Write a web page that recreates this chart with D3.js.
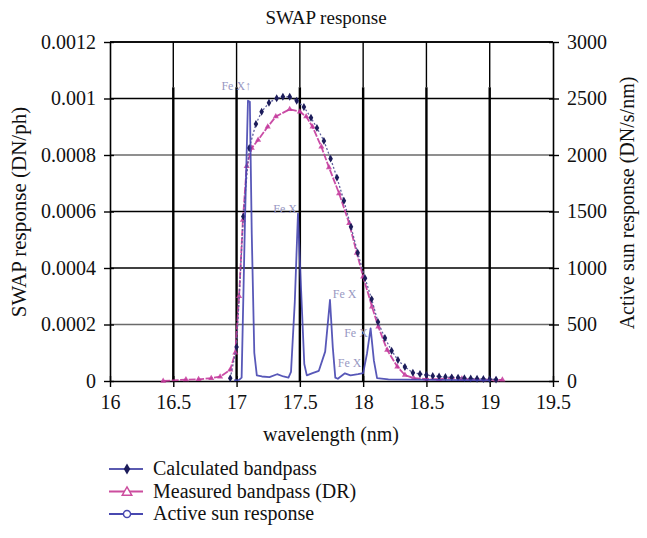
<!DOCTYPE html>
<html><head><meta charset="utf-8">
<script src="https://cdn.jsdelivr.net/npm/d3@7"></script>
<style>
body{margin:0;background:#fff;}
text{font-family:"Liberation Serif","Times New Roman",serif;fill:#111;}
</style></head>
<body><svg id="c" width="647" height="538"></svg>
<script>
// ---- data ----
const xTicks = [16, 16.5, 17, 17.5, 18, 18.5, 19, 19.5];
const leftTicks = [0, 0.0002, 0.0004, 0.0006, 0.0008, 0.001, 0.0012];
const leftTickLabels = ["0", "0.0002", "0.0004", "0.0006", "0.0008", "0.001", "0.0012"];
const rightTicks = [0, 500, 1000, 1500, 2000, 2500, 3000];

const calcWl = [16.95, 17.0, 17.053, 17.10, 17.153, 17.198, 17.256, 17.317, 17.366, 17.42, 17.475, 17.532, 17.588, 17.635, 17.69, 17.743, 17.793, 17.848, 17.904, 17.957, 18.015, 18.067, 18.117, 18.172, 18.225, 18.275, 18.33, 18.393, 18.449, 18.5, 18.55, 18.6, 18.65, 18.7, 18.75, 18.8, 18.85, 18.9, 18.95, 19.0, 19.05];
const calcVal = [0.00001, 0.00012, 0.000582, 0.000825, 0.00091, 0.000953, 0.000985, 0.001001, 0.001006, 0.001006, 0.000992, 0.00097, 0.000932, 0.000896, 0.00085, 0.000787, 0.00072, 0.000638, 0.000546, 0.000454, 0.000364, 0.00029, 0.000209, 0.000152, 0.000107, 0.0000743, 0.0000496, 0.0000294, 0.000025, 0.000021, 0.000018, 0.000016, 0.000014, 0.000013, 0.000012, 0.00001, 0.000009, 0.000008, 0.000007, 0.000006, 0.000005];

const measWl = [16.42, 16.6, 16.7, 16.8, 16.87, 16.95, 16.99, 17.02, 17.05, 17.08, 17.12, 17.17, 17.246, 17.31, 17.42, 17.5, 17.55, 17.6, 17.67, 17.73, 17.81, 17.89, 17.95, 18.0, 18.07, 18.12, 18.19, 18.27, 18.33, 18.4, 18.5, 18.6, 18.7, 18.78, 18.85, 18.95, 19.05, 19.1];
const measVal = [0.0, 0.000005, 0.000006, 0.00001, 0.000015, 0.00004, 0.0001, 0.0003, 0.00057, 0.00076, 0.000825, 0.000853, 0.0009, 0.000936, 0.000962, 0.000953, 0.000936, 0.0009, 0.000829, 0.000756, 0.000664, 0.000558, 0.000453, 0.000369, 0.000263, 0.000192, 0.00011, 0.0000506, 0.0000212, 0.00001, 0.000007, 0.000006, 0.000012, 0.000008, 0.000006, 0.000005, 0.000004, 0.000004];

const sunWl = [16.98, 17.02, 17.04, 17.066, 17.09, 17.105, 17.12, 17.14, 17.16, 17.2, 17.26, 17.32, 17.37, 17.41, 17.43, 17.46, 17.485, 17.51, 17.535, 17.555, 17.6, 17.65, 17.7, 17.738, 17.76, 17.78, 17.8, 17.856, 17.9, 17.96, 18.0, 18.03, 18.059, 18.085, 18.11, 18.2, 18.4, 18.6, 18.8, 19.0];
const sunVal = [5, 10, 30, 1400, 2480, 2470, 1300, 250, 50, 40, 35, 60, 40, 30, 80, 700, 1480, 800, 150, 50, 70, 90, 260, 717, 300, 30, 20, 68, 50, 60, 70, 240, 466, 180, 25, 15, 12, 10, 8, 5];

const labels = [
  {t: "Fe X\u2191", wl: 16.88, v: 0.00103},
  {t: "Fe X", wl: 17.29, v: 0.000595},
  {t: "Fe X", wl: 17.76, v: 0.000295},
  {t: "Fe X", wl: 17.85, v: 0.000155},
  {t: "Fe X", wl: 17.8, v: 0.000048}
];

// ---- layout ----
const svg = d3.select("#c");
const L = 110, R = 553, T = 42, B = 381;
const x = d3.scaleLinear().domain([16, 19.5]).range([L, R]);
const y = d3.scaleLinear().domain([0, 0.0012]).range([B, T]);
const y2 = d3.scaleLinear().domain([0, 3000]).range([B, T]);

// grid
svg.append("g").selectAll("line").data(leftTicks.slice(1)).join("line")
  .attr("x1", L).attr("x2", R).attr("y1", d => y(d)).attr("y2", d => y(d))
  .attr("stroke", (d,i) => (i===0||i===3) ? "#6a6a6a" : "#000").attr("stroke-width", 1.4);
const vg = svg.append("g");
vg.selectAll("line.thin").data(xTicks.slice(1, -1)).join("line").attr("class", "thin")
  .attr("x1", d => x(d)).attr("x2", d => x(d)).attr("y1", T).attr("y2", y(0.00104))
  .attr("stroke", "#000").attr("stroke-width", 1.4);
vg.selectAll("line.thick").data(xTicks.slice(1, -1)).join("line").attr("class", "thick")
  .attr("x1", d => x(d)).attr("x2", d => x(d)).attr("y1", y(0.00104)).attr("y2", B)
  .attr("stroke", "#000").attr("stroke-width", 2.4);

// axes
const fs = "20px";
const axL = svg.append("g").attr("transform", `translate(${L},0)`)
  .call(d3.axisLeft(y).tickValues(leftTicks).tickFormat((d,i) => leftTickLabels[i]).tickSizeInner(6).tickSizeOuter(0).tickPadding(8));
const axR = svg.append("g").attr("transform", `translate(${R},0)`)
  .call(d3.axisRight(y2).tickValues(rightTicks).tickFormat(d3.format("d")).tickSizeInner(6).tickSizeOuter(0).tickPadding(8));
const axB = svg.append("g").attr("transform", `translate(0,${B})`)
  .call(d3.axisBottom(x).tickValues(xTicks).tickFormat(d3.format("")).tickSizeInner(6).tickSizeOuter(0).tickPadding(8));
[axL, axR, axB].forEach(a => {
  a.attr("font-family", null);
  a.selectAll("text").style("font-size", fs).style("font-family", "'Liberation Serif', serif").attr("fill", "#111");
  a.select(".domain").attr("stroke", "#000").attr("stroke-width", 1.6);
  a.selectAll(".tick line").attr("stroke", "#000").attr("stroke-width", 1.4);
});
axL.selectAll(".tick").append("line").attr("x2", 4).attr("stroke", "#000").attr("stroke-width", 1.4);
axR.selectAll(".tick").append("line").attr("x2", -4).attr("stroke", "#000").attr("stroke-width", 1.4);
axB.selectAll(".tick").append("line").attr("y2", -5).attr("stroke", "#000").attr("stroke-width", 1.4);
svg.append("line").attr("x1", L).attr("x2", R).attr("y1", T).attr("y2", T).attr("stroke", "#000").attr("stroke-width", 1.6);

// series
const calc = calcWl.map((w,i) => [w, calcVal[i]]);
const meas = measWl.map((w,i) => [w, measVal[i]]);
const sun = sunWl.map((w,i) => [w, sunVal[i]]);

const lineL = d3.line().x(d => x(d[0])).y(d => y(d[1]));
const lineR = d3.line().x(d => x(d[0])).y(d => y2(d[1]));

svg.append("path").datum(meas).attr("d", lineL).attr("fill", "none")
  .attr("stroke", "#c43a9c").attr("stroke-width", 1.8).attr("stroke-dasharray", "7,1.5").attr("opacity", 0.9);
svg.append("g").selectAll("path").data(meas).join("path")
  .attr("d", d3.symbol(d3.symbolTriangle, 16)).attr("transform", d => `translate(${x(d[0])},${y(d[1])})`)
  .attr("fill", "#c43a9c").attr("opacity", 0.85);

svg.append("path").datum(calc).attr("d", lineL).attr("fill", "none")
  .attr("stroke", "#60609e").attr("stroke-width", 1.3).attr("stroke-dasharray", "2,2");
svg.append("g").selectAll("path").data(calc).join("path")
  .attr("d", d3.symbol(d3.symbolDiamond, 18)).attr("transform", d => `translate(${x(d[0])},${y(d[1])})`)
  .attr("fill", "#1c1c5a");

svg.append("path").datum(sun).attr("d", lineR).attr("fill", "none")
  .attr("stroke", "#4646b0").attr("stroke-width", 1.8).attr("stroke-linejoin", "round").attr("opacity", 0.9);

// Fe X labels
svg.append("g").selectAll("text").data(labels).join("text")
  .attr("x", d => x(d.wl)).attr("y", d => y(d.v)).text(d => d.t)
  .style("font-size", "12px").style("fill", "#9898c2");

// titles
svg.append("text").attr("x", 326).attr("y", 24).attr("text-anchor", "middle").style("font-size", "19px").text("SWAP response");
svg.append("text").attr("x", 331).attr("y", 441).attr("text-anchor", "middle").style("font-size", "20px").text("wavelength (nm)");
svg.append("text").attr("transform", "translate(26,212) rotate(-90)").attr("text-anchor", "middle").style("font-size", "21px").text("SWAP response (DN/ph)");
svg.append("text").attr("transform", "translate(634,203) rotate(-90)").attr("text-anchor", "middle").style("font-size", "20px").text("Active sun response (DN/s/nm)");

// legend
const legNames = ["Calculated bandpass", "Measured bandpass (DR)", "Active sun response"];
const legColors = ["#5a5ab0", "#cc4d9e", "#4848b0"];
const legSyms = [d3.symbolDiamond, d3.symbolTriangle, d3.symbolCircle];
const leg = svg.append("g");
legNames.forEach((n, i) => {
  const yy = 469 + i * 22.5;
  leg.append("line").attr("x1", 109).attr("x2", 143).attr("y1", yy).attr("y2", yy).attr("stroke", legColors[i]).attr("stroke-width", 2);
  const s = leg.append("path").attr("d", d3.symbol(legSyms[i], i===0 ? 36 : 40)).attr("transform", `translate(127,${yy + (i===1?1:0)})`);
  if (i === 0) s.attr("fill", "#1c1c5a");
  else s.attr("fill", "#fff").attr("stroke", legColors[i]).attr("stroke-width", 1.4);
  leg.append("text").attr("x", 153).attr("y", yy + 6).style("font-size", "20px").text(n);
});
</script></body></html>
